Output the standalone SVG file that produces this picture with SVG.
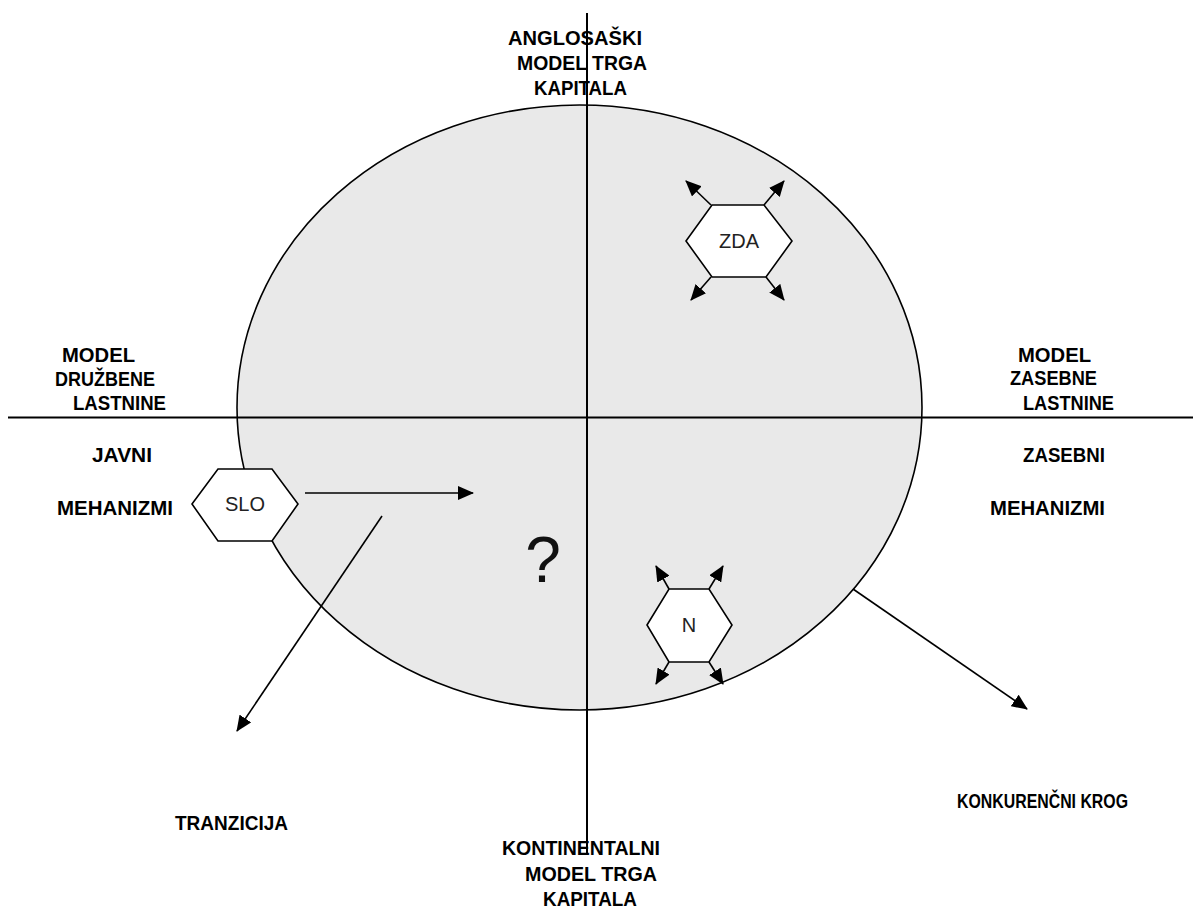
<svg xmlns="http://www.w3.org/2000/svg" width="1193" height="911" viewBox="0 0 1193 911">
  <style>
    .lbl { font-family: "Liberation Sans", Arial, sans-serif; font-weight: bold; font-size: 20px; fill: #000; }
    .hex { fill: #fff; stroke: #000; stroke-width: 1.6; }
    .hext { font-family: "Liberation Sans", Arial, sans-serif; font-size: 20px; fill: #222; text-anchor: middle; }
    .axis { stroke: #000; stroke-width: 2; fill: none; }
    .arr { stroke: #000; stroke-width: 1.6; fill: none; marker-end: url(#head); }
  </style>
  <defs>
    <marker id="head" markerUnits="userSpaceOnUse" markerWidth="16" markerHeight="14" refX="15" refY="7" orient="auto">
      <path d="M0,0 L16,7 L0,14 z" fill="#000"/>
    </marker>
  </defs>

  <rect width="1193" height="911" fill="#fff"/>

  <!-- competition circle -->
  <g id="circle">
    <ellipse cx="579.5" cy="407.5" rx="342.5" ry="302.5" fill="#e9e9e9" stroke="#000" stroke-width="1.6"/>
  </g>

  <!-- axes -->
  <g id="axes">
    <line class="axis" x1="8" y1="417.5" x2="1193" y2="417.5"/>
    <line class="axis" x1="587" y1="13" x2="587" y2="853"/>
  </g>

  <!-- connectors -->
  <g id="connectors">
    <line class="arr" x1="305" y1="493" x2="473" y2="493"/>
    <line class="arr" x1="382" y1="516" x2="237" y2="731"/>
    <line class="arr" x1="853" y1="589" x2="1027" y2="709"/>
    <!-- ZDA spread -->
    <line class="arr" x1="711" y1="205" x2="686" y2="181"/>
    <line class="arr" x1="764" y1="205" x2="784" y2="181"/>
    <line class="arr" x1="711" y1="277" x2="691" y2="300"/>
    <line class="arr" x1="766" y1="277" x2="784" y2="300"/>
    <!-- N spread -->
    <line class="arr" x1="669" y1="589" x2="656" y2="566"/>
    <line class="arr" x1="709" y1="589" x2="723" y2="566"/>
    <line class="arr" x1="669" y1="662" x2="656" y2="684"/>
    <line class="arr" x1="709" y1="662" x2="723" y2="684"/>
  </g>

  <g id="zda">
    <polygon class="hex" points="686,241 712,205 764,205 792,241 766,277 712,277"/>
    <text class="hext" x="739" y="248">ZDA</text>
  </g>

  <g id="slo">
    <polygon class="hex" points="192,504 218,469 272,469 298,504 272,541 218,541"/>
    <text class="hext" x="245" y="511">SLO</text>
  </g>

  <g id="n">
    <polygon class="hex" points="647,625 669,589 709,589 732,625 709,662 669,662"/>
    <text class="hext" x="689" y="632">N</text>
  </g>

  <g id="question">
    <text x="543" y="582" font-family="Liberation Sans, Arial, sans-serif" font-size="64" text-anchor="middle" fill="#111">?</text>
  </g>

  <!-- axis labels -->
  <g id="top-label" class="lbl">
    <text x="508" y="45" textLength="134" lengthAdjust="spacingAndGlyphs">ANGLOSAŠKI</text>
    <text x="517" y="70" textLength="130" lengthAdjust="spacingAndGlyphs">MODEL TRGA</text>
    <text x="534" y="95" textLength="93" lengthAdjust="spacingAndGlyphs">KAPITALA</text>
  </g>

  <g id="bottom-label" class="lbl">
    <text x="502" y="855" textLength="158" lengthAdjust="spacingAndGlyphs">KONTINENTALNI</text>
    <text x="525" y="881" textLength="132" lengthAdjust="spacingAndGlyphs">MODEL TRGA</text>
    <text x="543" y="906" textLength="94" lengthAdjust="spacingAndGlyphs">KAPITALA</text>
  </g>

  <g id="left-label" class="lbl">
    <text x="62" y="362" textLength="73" lengthAdjust="spacingAndGlyphs">MODEL</text>
    <text x="55" y="386" textLength="100" lengthAdjust="spacingAndGlyphs">DRUŽBENE</text>
    <text x="73" y="410" textLength="93" lengthAdjust="spacingAndGlyphs">LASTNINE</text>
  </g>

  <g id="left-mech" class="lbl">
    <text x="92" y="462" textLength="60" lengthAdjust="spacingAndGlyphs">JAVNI</text>
    <text x="57" y="515" textLength="116" lengthAdjust="spacingAndGlyphs">MEHANIZMI</text>
  </g>

  <g id="right-label" class="lbl">
    <text x="1018" y="362" textLength="73" lengthAdjust="spacingAndGlyphs">MODEL</text>
    <text x="1010" y="385" textLength="87" lengthAdjust="spacingAndGlyphs">ZASEBNE</text>
    <text x="1023" y="410" textLength="91" lengthAdjust="spacingAndGlyphs">LASTNINE</text>
  </g>

  <g id="right-mech" class="lbl">
    <text x="1023" y="462" textLength="82" lengthAdjust="spacingAndGlyphs">ZASEBNI</text>
    <text x="990" y="515" textLength="115" lengthAdjust="spacingAndGlyphs">MEHANIZMI</text>
  </g>

  <g id="tranzicija" class="lbl">
    <text x="175" y="830" textLength="113" lengthAdjust="spacingAndGlyphs">TRANZICIJA</text>
  </g>

  <g id="konkurencni" class="lbl">
    <text x="957" y="808" textLength="171" lengthAdjust="spacingAndGlyphs">KONKURENČNI KROG</text>
  </g>
</svg>
